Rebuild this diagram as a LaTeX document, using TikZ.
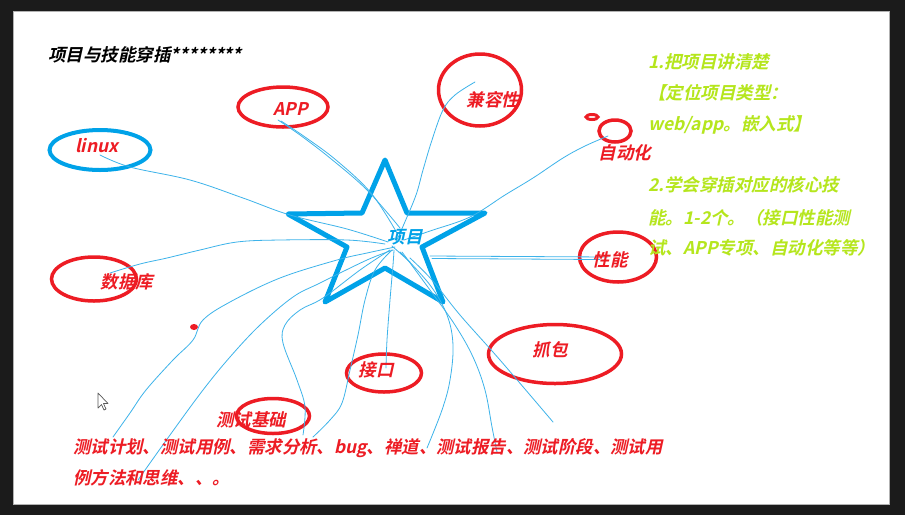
\documentclass[tikz,border=0pt]{standalone}
\usepackage{fontspec}
\usetikzlibrary{shapes.geometric}
\newfontfamily\cjk[FakeSlant=0.22]{Noto Sans CJK SC Bold}
\definecolor{pred}{HTML}{ED1C24}
\definecolor{pblue}{HTML}{00A2E8}
\definecolor{lblue}{HTML}{3DB3EA}
\definecolor{pgreen}{HTML}{B5E61D}
\definecolor{dark}{HTML}{1B1B1B}
\tikzset{
  lbl/.style={font=\cjk\fontsize{17.5}{20}\selectfont, text=pred, inner sep=0pt},
  greentxt/.style={font=\cjk\fontsize{17.5}{20}\selectfont, text=pgreen, inner sep=0pt, anchor=west},
  bottomtxt/.style={font=\cjk\fontsize{17.4}{20}\selectfont, text=pred, inner sep=0pt, anchor=west},
  ell/.style={draw=pred, line width=3.5pt, ellipse, inner sep=0pt},
  wire/.style={draw=lblue, line width=0.8pt, line cap=round, line join=round},
}
\begin{document}
\begin{tikzpicture}[x=1pt,y=-1pt]
\useasboundingbox (0,0) rectangle (905,515);
\fill[dark] (0,0) rectangle (905,515);
\filldraw[fill=white, draw=gray!60, line width=0.8pt] (13,11) rectangle (889,504);

% ellipses
\node[ell, minimum width=90pt, minimum height=40pt] (appE) at (283,107) {};
\node[ell, minimum width=83pt, minimum height=72pt] (jrxE) at (480,90) {};
\node[ell, line width=3pt, minimum width=12pt, minimum height=5pt] (dotE) at (592,117) {};
\node[ell, minimum width=32pt, minimum height=22pt] (zdhE) at (615,131) {};
\node[ell, minimum width=77pt, minimum height=50pt] (xnE) at (618,257) {};
\node[ell, minimum width=85pt, minimum height=44pt] (sjkE) at (94,279) {};
\node[ell, minimum width=75pt, minimum height=38pt] (jkE) at (384,373) {};
\node[ell, minimum width=133pt, minimum height=59pt] (zbE) at (555,354) {};
\node[ell, minimum width=73pt, minimum height=35pt] (csE) at (273,416) {};
\node[ellipse, draw=pblue, line width=4pt, inner sep=0pt, minimum width=101pt, minimum height=40pt] (linuxE) at (100,150) {};
\node[ellipse, fill=pred, inner sep=0pt, minimum width=8pt, minimum height=6pt] (reddot) at (194,327) {};

% star
\draw[pblue, line width=5pt, line join=round] (385,160) -- (407,213) -- (485,213) -- (422,247) -- (443,302) -- (385,268) -- (325,302) -- (347,247) -- (288,214) -- (362,213) -- cycle;
\coordinate (ctr) at (392,246);

% connector end points
\coordinate (pLinux) at (100,155);
\coordinate (pApp) at (278,120);
\coordinate (pApp2) at (281,121);
\coordinate (pJrx) at (475,82);
\coordinate (pZdh) at (608,136);
\coordinate (pXn) at (608,257);
\coordinate (pXn2) at (600,259.5);
\coordinate (pSjk) at (110,273);
\coordinate (pA) at (113,437);
\coordinate (pB) at (138,480);
\coordinate (pC) at (303,435);
\coordinate (pD) at (313,437);
\coordinate (pJk) at (386,368);
\coordinate (pE) at (427,448);
\coordinate (pF) at (497,452);
\coordinate (pG) at (553,422);

% connectors
\draw[wire] plot[smooth, tension=0.6] coordinates {(pLinux) (130,167) (190,180) (243,198) (290,215) (347,229) (388,242)};
\draw[wire] plot[smooth, tension=0.6] coordinates {(pApp) (300,135) (330,158) (367,190) (400,228)};
\draw[wire] plot[smooth, tension=0.6] coordinates {(pApp2) (305,137) (336,160) (371,193) (397,233)};
\draw[wire] plot[smooth, tension=0.6] coordinates {(pJrx) (455,95) (443,110) (432,140) (423,170) (416,195) (404,224) (396,242)};
\draw[wire] plot[smooth, tension=0.6] coordinates {(pZdh) (585,146) (563,158) (533,178) (505,195) (470,217) (430,231) (404,240)};
\draw[wire] (430,256) -- (pXn);
\draw[wire] (432,258.5) -- (pXn2);
\draw[wire] (410,262) -- (ctr);
\draw[wire] plot[smooth, tension=0.6] coordinates {(pSjk) (140,264) (167,258) (200,250) (237,242) (280,240) (347,240) (385,244)};
\draw[wire] plot[smooth, tension=0.6] coordinates {(pA) (130,413) (146,390) (173,360) (193,340) (203,320) (230,302) (280,278) (337,260) (367,253) (395,247)};
\draw[wire] plot[smooth, tension=0.6] coordinates {(pB) (170,435) (203,390) (230,357) (260,325) (293,297) (320,283) (367,260) (393,250)};
\draw[wire] plot[smooth, tension=0.6] coordinates {(pC) (305,407) (297,380) (283,343) (285,325) (300,310) (323,298) (360,270) (390,250)};
\draw[wire] plot[smooth, tension=0.6] coordinates {(pD) (330,420) (342,403) (350,370) (358,335) (365,300) (375,270) (392,250)};
\draw[wire] plot[smooth, tension=0.6] coordinates {(pJk) (387,340) (390,300) (393,265) (394,250)};
\draw[wire] plot[smooth, tension=0.6] coordinates {(pE) (442,410) (450,380) (453,345) (447,315) (430,285) (400,252)};
\draw[wire] plot[smooth, tension=0.6] coordinates {(pF) (492,427) (485,390) (473,357) (455,325) (430,290) (402,252)};
\draw[wire] plot[smooth, tension=0.6] coordinates {(pG) (500,360) (460,315) (432,280) (410,258)};

% labels
\node[lbl, text=black, anchor=west] (title) at (48,55) {项目与技能穿插********};
\node[lbl] (app) at (291,109) {APP};
\node[lbl] (jrx) at (493,100) {兼容性};
\node[lbl] (zdh) at (625,153) {自动化};
\node[lbl] (linux) at (97,146) {linux};
\node[lbl] (xn) at (610,260) {性能};
\node[lbl] (sjk) at (127,282) {数据库};
\node[lbl] (jk) at (376,370) {接口};
\node[lbl] (zb) at (550,350) {抓包};
\node[lbl] (csjc) at (251,420) {测试基础};
\node[lbl, text=pblue] (xm) at (405,237) {项目};

\node[greentxt] (g1) at (648,62) {1.把项目讲清楚};
\node[greentxt] (g2) at (648,93) {【定位项目类型：};
\node[greentxt] (g3) at (648,125) {web/app。嵌入式】};
\node[greentxt] (g4) at (648,185) {2.学会穿插对应的核心技};
\node[greentxt] (g5) at (648,218) {能。1-2个。（接口性能测};
\node[greentxt] (g6) at (648,248) {试、APP专项、自动化等等）};

\node[bottomtxt] (b1) at (73,448) {测试计划、测试用例、需求分析、bug、禅道、测试报告、测试阶段、测试用};
\node[bottomtxt] (b2) at (73,478) {例方法和思维、、。};

% mouse cursor
\filldraw[fill=white, draw=gray!70!black, line width=0.7pt, line join=round] (98,393) -- (98,408) -- (101.5,404.5) -- (104,410) -- (106,409) -- (103.5,403.5) -- (108,403.5) -- cycle;
\end{tikzpicture}
\end{document}
